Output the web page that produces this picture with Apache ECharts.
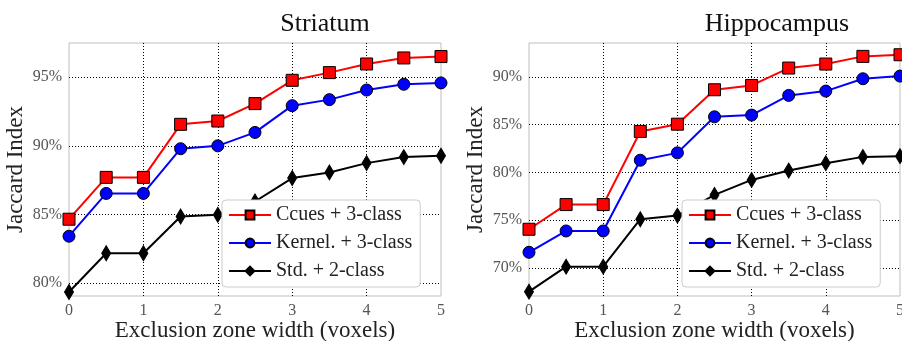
<!DOCTYPE html>
<html lang="en">
<head>
<meta charset="UTF-8">
<title>Jaccard Index</title>
<script src="https://cdn.jsdelivr.net/npm/echarts@6/dist/echarts.min.js"></script>
<style>
  html, body { margin: 0; padding: 0; background: #fff; }
</style>
</head>
<body>
<div id="main" style="width:902px;height:341px;"></div>
<script>
// exclusion zone widths (voxels)
const widths = [0, 0.5, 1, 1.5, 2, 2.5, 3, 3.5, 4, 4.5, 5];
const seriesNames = ['Ccues + 3-class', 'Kernel. + 3-class', 'Std. + 2-class'];

// Striatum
const striCcues  = [84.65, 87.7, 87.7, 91.57, 91.81, 93.08, 94.78, 95.34, 95.97, 96.41, 96.51];
const striKernel = [83.41, 86.53, 86.53, 89.79, 90.0, 90.98, 92.93, 93.37, 94.07, 94.49, 94.59];
const striStd    = [79.34, 82.17, 82.17, 84.85, 84.97, 85.94, 87.65, 88.06, 88.74, 89.18, 89.28];

// Hippocampus
const hipCcues  = [74.05, 76.63, 76.63, 84.28, 85.04, 88.64, 89.09, 90.91, 91.33, 92.13, 92.3];
const hipKernel = [71.64, 73.87, 73.87, 81.27, 82.04, 85.81, 85.99, 88.05, 88.5, 89.79, 90.07];
const hipStd    = [67.52, 70.14, 70.14, 75.1, 75.48, 77.64, 79.21, 80.19, 80.96, 81.62, 81.69];

const serif = 'Liberation Serif';

let myChart = echarts.init(document.getElementById('main'));

function pairs(ys) {
    return widths.map((x, i) => [x, ys[i]]);
}

// line look per method
const looks = [
    { color: '#ff0000', symbol: 'rect', size: 12 },
    { color: '#0000ff', symbol: 'circle', size: 12 },
    { color: '#000000', symbol: 'diamond', size: [9, 15] }
];

function makeSeries(name, ys, idx, look) {
    return {
        name: name,
        type: 'line',
        xAxisIndex: idx,
        yAxisIndex: idx,
        data: pairs(ys),
        symbol: look.symbol,
        symbolSize: look.size,
        showAllSymbol: true,
        lineStyle: { color: look.color, width: 2 },
        itemStyle: { color: look.color, borderColor: '#000', borderWidth: 1 },
        emphasis: { disabled: true },
        animation: false
    };
}

const dots = { color: '#000', type: [1, 2], width: 1 };

function xAx(idx) {
    return {
        type: 'value', gridIndex: idx, min: 0, max: 5, interval: 1,
        name: 'Exclusion zone width (voxels)', nameLocation: 'middle', nameGap: 23,
        nameMoveOverlap: false,
        nameTextStyle: { fontFamily: serif, fontSize: 23, color: '#222' },
        axisLine: { show: false },
        axisTick: { show: false },
        axisLabel: { fontFamily: serif, fontSize: 16, color: '#555', margin: 7 },
        splitLine: { show: true, showMinLine: false, showMaxLine: false, lineStyle: dots }
    };
}

function yAx(idx, min, max) {
    return {
        type: 'value', gridIndex: idx, min: min, max: max, splitNumber: 4,
        name: 'Jaccard Index', nameLocation: 'middle', nameGap: 42,
        nameMoveOverlap: false,
        nameTextStyle: { fontFamily: serif, fontSize: 23, color: '#222' },
        axisLine: { show: false },
        axisTick: { show: false },
        axisLabel: { fontFamily: serif, fontSize: 16, color: '#555', margin: 7,
            showMinLabel: false, showMaxLabel: false,
            formatter: v => Math.round(v) + '%' },
        splitLine: { show: true, showMinLine: false, showMaxLine: false, lineStyle: dots }
    };
}

function legendAt(left) {
    return {
        orient: 'vertical', left: left, top: 200,
        data: seriesNames,
        itemWidth: 42, itemHeight: 11, itemGap: 8,
        padding: [5, 8, 6, 6],
        backgroundColor: '#fff', borderColor: '#cccccc', borderWidth: 1, borderRadius: 4,
        textStyle: { fontFamily: 'serif', fontStyle: 'normal', fontWeight: 'normal',
                     fontSize: 20, color: '#222', lineHeight: 16 },
        selectedMode: false
    };
}

let option = {
    animation: false,
    backgroundColor: '#fff',
    textStyle: { fontFamily: serif },
    title: [
        { text: 'Striatum', left: 320, top: 6, textAlign: 'center',
          textStyle: { fontFamily: serif, fontSize: 26, fontWeight: 'normal', color: '#111' } },
        { text: 'Hippocampus', left: 772, top: 6, textAlign: 'center',
          textStyle: { fontFamily: serif, fontSize: 26, fontWeight: 'normal', color: '#111' } }
    ],
    grid: [
        { left: 69, top: 43, width: 372, height: 253, outerBoundsMode: 'none', containLabel: false,
          show: true, borderColor: '#bfbfbf', borderWidth: 1, backgroundColor: '#fff' },
        { left: 529, top: 43, width: 371, height: 253, outerBoundsMode: 'none', containLabel: false,
          show: true, borderColor: '#bfbfbf', borderWidth: 1, backgroundColor: '#fff' }
    ],
    xAxis: [xAx(0), xAx(1)],
    yAxis: [yAx(0, 79.05, 97.5), yAx(1, 67.07, 93.53)],
    legend: [legendAt(222), legendAt(682)],
    series: [
        makeSeries(seriesNames[0], striCcues, 0, looks[0]),
        makeSeries(seriesNames[1], striKernel, 0, looks[1]),
        makeSeries(seriesNames[2], striStd, 0, looks[2]),
        makeSeries(seriesNames[0], hipCcues, 1, looks[0]),
        makeSeries(seriesNames[1], hipKernel, 1, looks[1]),
        makeSeries(seriesNames[2], hipStd, 1, looks[2])
    ]
};

myChart.setOption(option);
</script>
</body>
</html>
